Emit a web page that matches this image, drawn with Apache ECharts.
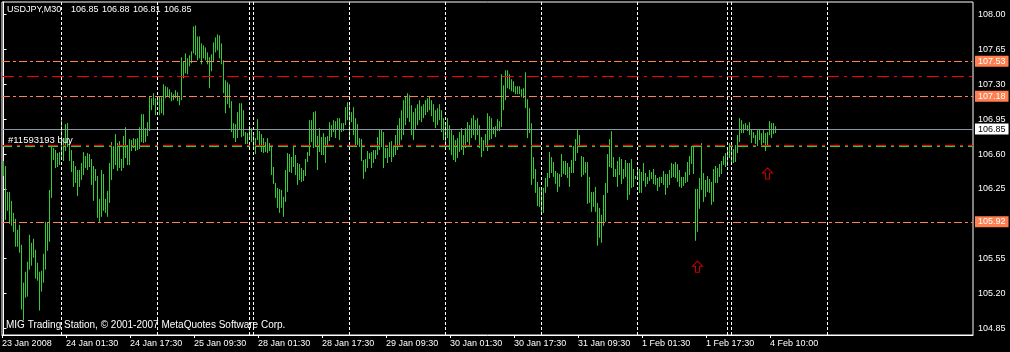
<!DOCTYPE html>
<html><head><meta charset="utf-8">
<script src="https://cdn.jsdelivr.net/npm/echarts@6/dist/echarts.min.js"></script>
<style>html,body{margin:0;padding:0;background:#000;}#c{width:1010px;height:352px;}</style>
</head><body><div id="c"></div>
<script>
// ---- data (USDJPY M30 bars, one per 30 minutes) ----
const highs = [
106.53,106.48,106.22,106.22,106.13,106.01,105.95,105.84,105.89,105.69,
105.31,105.42,105.52,105.79,105.71,105.75,105.64,105.51,105.42,105.43,
105.60,105.92,105.91,106.24,106.69,106.66,106.64,106.61,106.62,106.94,
106.73,106.90,106.91,106.73,106.64,106.53,106.48,106.44,106.44,106.51,
106.62,106.58,106.61,106.60,106.55,106.48,106.45,106.38,106.15,106.44,
106.40,106.15,106.23,106.51,106.72,106.68,106.80,106.71,106.73,106.55,
106.78,106.87,106.69,106.75,106.74,106.76,106.75,106.76,106.87,107.00,
107.00,106.86,106.92,107.18,107.16,107.21,107.16,107.17,107.18,107.17,
107.30,107.28,107.27,107.25,107.22,107.20,107.24,107.22,107.17,107.57,
107.53,107.61,107.56,107.59,107.63,107.88,107.89,107.78,107.78,107.71,
107.69,107.67,107.62,107.57,107.60,107.72,107.77,107.80,107.79,107.71,
107.54,107.34,107.32,107.30,107.13,106.91,106.90,107.02,107.11,107.11,
107.04,106.82,106.81,106.88,106.86,106.79,106.76,106.95,106.83,106.80,
106.76,106.72,106.76,106.71,106.68,106.47,106.31,106.26,106.25,106.24,
106.17,106.44,106.61,106.60,106.57,106.67,106.59,106.51,106.50,106.46,
106.44,106.55,106.62,106.94,106.94,107.02,107.03,106.78,106.86,106.77,
106.81,106.77,106.78,106.92,106.89,106.94,106.93,106.96,106.96,106.91,
106.91,107.07,107.12,107.10,107.02,107.07,106.96,106.90,106.76,106.75,
106.54,106.55,106.63,106.61,106.62,106.64,106.64,106.77,106.85,106.85,
106.82,106.66,106.66,106.72,106.73,106.67,106.79,106.89,106.96,107.04,
107.14,107.18,107.21,107.19,107.09,107.02,107.06,107.10,107.14,107.08,
107.10,107.14,107.16,107.18,107.14,107.10,107.04,107.06,107.10,107.04,
106.96,106.92,106.96,106.89,106.84,106.79,106.74,106.76,106.82,106.86,
106.79,106.86,106.92,106.89,106.96,106.99,106.94,106.96,106.89,106.77,
106.74,106.80,107.01,106.98,106.96,106.87,106.88,106.95,106.93,107.40,
107.29,107.44,107.44,107.40,107.35,107.33,107.28,107.28,107.28,107.25,
107.26,107.42,107.15,107.06,106.91,106.57,106.45,106.32,106.27,106.27,
106.26,106.36,106.41,106.62,106.57,106.52,106.43,106.41,106.40,106.60,
106.53,106.53,106.51,106.47,106.54,106.68,106.75,106.84,106.79,106.58,
106.57,106.52,106.52,106.37,106.22,106.22,106.27,106.11,106.06,105.99,
106.19,106.31,106.60,106.75,106.83,106.57,106.45,106.53,106.57,106.55,
106.45,106.54,106.51,106.51,106.55,106.45,106.38,106.46,106.45,106.42,
106.51,106.41,106.37,106.44,106.42,106.45,106.39,106.36,106.37,106.37,
106.43,106.40,106.40,106.44,106.51,106.50,106.52,106.50,106.44,106.37,
106.37,106.42,106.52,106.58,106.68,106.69,106.25,106.25,106.36,106.71,
106.41,106.34,106.38,106.35,106.32,106.45,106.48,106.46,106.50,106.53,
106.58,106.61,106.65,106.71,106.69,106.65,106.69,106.79,106.96,106.94,
106.90,106.91,106.89,106.92,106.85,106.82,106.79,106.84,106.85,106.81,
106.84,106.81,106.82,106.93,106.91,106.91,106.88
];
const lows = [
106.38,105.94,106.03,105.90,105.88,105.82,105.67,105.67,105.61,105.04,
104.93,105.16,105.17,105.44,105.48,105.56,105.35,105.33,105.03,105.22,
105.31,105.44,105.63,105.72,106.16,106.54,106.46,106.47,106.49,106.54,
106.53,106.63,106.67,106.53,106.42,106.27,106.31,106.18,106.27,106.34,
106.39,106.46,106.44,106.47,106.29,106.13,106.33,105.96,105.92,105.97,
106.03,106.01,105.97,106.11,106.34,106.45,106.49,106.43,106.46,106.43,
106.46,106.56,106.49,106.49,106.63,106.66,106.63,106.64,106.65,106.72,
106.71,106.72,106.78,106.83,107.04,107.09,106.99,107.09,106.99,107.01,
106.99,107.16,107.18,107.16,107.13,107.14,107.16,107.13,107.09,107.14,
107.36,107.41,107.40,107.48,107.51,107.61,107.59,107.54,107.56,107.50,
107.56,107.54,107.50,107.26,107.43,107.52,107.62,107.64,107.56,107.50,
107.21,107.01,107.10,107.06,106.82,106.76,106.72,106.76,106.85,106.77,
106.78,106.70,106.70,106.76,106.72,106.65,106.60,106.74,106.69,106.62,
106.61,106.62,106.61,106.63,106.39,106.30,106.16,106.06,106.01,106.06,
105.97,106.12,106.22,106.42,106.41,106.47,106.39,106.29,106.34,106.32,
106.33,106.38,106.52,106.58,106.72,106.66,106.67,106.44,106.62,106.59,
106.59,106.51,106.67,106.73,106.77,106.82,106.76,106.84,106.74,106.82,
106.83,106.89,106.94,106.76,106.92,106.79,106.67,106.69,106.67,106.53,
106.35,106.42,106.46,106.55,106.46,106.51,106.55,106.59,106.64,106.67,
106.46,106.56,106.51,106.57,106.52,106.57,106.59,106.64,106.69,106.74,
106.79,106.89,106.96,106.92,106.79,106.74,106.84,106.89,106.94,106.92,
106.96,106.99,107.02,107.04,106.98,106.92,106.86,106.89,106.94,106.82,
106.74,106.69,106.76,106.64,106.59,106.54,106.52,106.56,106.62,106.64,
106.59,106.66,106.72,106.69,106.76,106.79,106.74,106.79,106.66,106.57,
106.63,106.67,106.63,106.74,106.75,106.80,106.77,106.83,106.83,106.87,
107.04,107.14,107.26,107.25,107.23,107.22,107.20,107.20,107.20,107.17,
107.16,107.06,106.76,106.81,106.29,106.35,106.21,106.08,106.07,106.00,
106.01,106.21,106.27,106.36,106.41,106.37,106.30,106.22,106.27,106.37,
106.40,106.39,106.36,106.27,106.41,106.41,106.53,106.61,106.68,106.37,
106.39,106.41,106.10,106.11,106.02,106.07,106.02,105.68,105.76,105.71,
105.88,105.92,106.21,106.47,106.46,106.37,106.37,106.27,106.39,106.30,
106.35,106.37,106.14,106.19,106.26,106.27,106.35,106.36,106.21,106.21,
106.33,106.27,106.30,106.33,106.35,106.30,106.29,106.23,106.27,106.31,
106.29,106.19,106.26,106.29,106.36,106.37,106.36,106.32,106.27,106.26,
106.28,106.31,106.32,106.39,106.50,106.40,105.73,105.82,106.05,106.24,
106.12,106.17,106.22,106.21,106.09,106.12,106.31,106.31,106.37,106.40,
106.49,106.47,106.48,106.56,106.52,106.51,106.52,106.61,106.72,106.81,
106.81,106.84,106.83,106.79,106.71,106.76,106.70,106.68,106.74,106.67,
106.71,106.63,106.69,106.79,106.76,106.80,106.81
];
// time-axis labels (every 32 bars = 16 hours of trading)
const timeLabels = ['23 Jan 2008','24 Jan 01:30','24 Jan 17:30','25 Jan 09:30','28 Jan 01:30','28 Jan 17:30','29 Jan 09:30','30 Jan 01:30','30 Jan 17:30','31 Jan 09:30','1 Feb 01:30','1 Feb 17:30','4 Feb 10:00'];
const timeLabelBars = [0,32,64,96,128,160,192,224,256,288,320,352,384];
// day separators (bar index of each new day)
const daySeparators = [29,77,123,125,173,221,269,317,362,364,412];
// price tick labels on the right axis
const priceTicks = [104.85,105.20,105.55,106.25,106.60,106.95,107.30,107.65,108.00];
// horizontal levels
const orangeLevels = [107.53, 107.18, 105.92];
const redLevel = 107.38;
const bidPrice = 106.85;
const orderPriceRed = 106.69;
const orderPriceGreen = 106.68;
const orderLabel = '#11593193 buy';
// arrows: [bar index, price]
const arrows = [[347, 105.47],[382, 106.405]];
const header = ['USDJPY,M30','106.85','106.88','106.81','106.85'];
const footer = 'MIG Trading Station, © 2001-2007 MetaQuotes Software Corp.';

// ---- chart ----
const FONT = 'Liberation Sans';
const chart = echarts.init(document.getElementById('c'), null, {renderer:'canvas'});
const barData = highs.map((h,i)=>[i, lows[i], h]);
const tickShift = 0.7;

const orangeStyle = {color:'#FF7F50', width:1, type:[8,3,3,3]};
const markData = [];
orangeLevels.forEach(v=>markData.push({yAxis:v, lineStyle:orangeStyle,
  label:{show:true, position:'end', distance:2, formatter:(p)=>Number(p.value).toFixed(2),
    backgroundColor:'#FF7F50', color:'#fff', fontFamily:FONT, fontSize:9, lineHeight:10, padding:[1,3,0,3]}}));
markData.push({yAxis:redLevel, lineStyle:{color:'#FF0000', width:1, type:[12,5,3,5]}, label:{show:false}});
markData.push({yAxis:bidPrice, lineStyle:{color:'#8A96A4', width:1, type:'solid'},
  label:{show:true, position:'end', distance:2, formatter:(p)=>Number(p.value).toFixed(2),
    backgroundColor:'#fff', color:'#000', fontFamily:FONT, fontSize:9, lineHeight:10, padding:[1,3,0,3]}});
markData.push({yAxis:orderPriceRed, lineStyle:{color:'#FF0000', width:1, type:[10,5,3,5]}, label:{show:false}});
markData.push({yAxis:orderPriceGreen, lineStyle:{color:'#32CD32', width:1, type:[10,5,3,5]}, label:{show:false}});
daySeparators.forEach(v=>markData.push({xAxis:v, lineStyle:{color:'#fff', width:1, type:[3,2]}, label:{show:false}}));

const option = {
  animation:false,
  backgroundColor:'#000',
  textStyle:{fontFamily:FONT},
  grid:{left:2, top:2, right:37, bottom:17, show:true, borderColor:'#fff', borderWidth:1, backgroundColor:'#000', containLabel:false, outerBoundsMode:'none'},
  xAxis:{type:'value', min:-0.75, max:484.75, splitLine:{show:false},
    axisLine:{show:true, lineStyle:{color:'#fff'}},
    axisTick:{show:true, length:3, lineStyle:{color:'#fff'}, customValues: timeLabelBars.map(v=>v-tickShift)},
    axisLabel:{show:true, color:'#fff', fontFamily:FONT, fontSize:9, align:'left', margin:4,
      customValues: timeLabelBars.map(v=>v-tickShift),
      formatter:(v)=>{const k=timeLabelBars.indexOf(Math.round(v+tickShift)); return k>=0?timeLabels[k]:'';}}},
  yAxis:{type:'value', position:'right', min:104.785, max:108.125, splitLine:{show:false},
    axisLine:{show:true, lineStyle:{color:'#fff'}},
    axisTick:{show:true, length:3, lineStyle:{color:'#fff'}, customValues: priceTicks},
    axisLabel:{show:true, color:'#fff', fontFamily:FONT, fontSize:9, margin:5, customValues: priceTicks,
      formatter:(v)=>Number(v).toFixed(2)}},
  series:[
    {type:'custom', name:'bars', data:barData, clip:true, z:2,
      renderItem:(params, api)=>{
        const x = api.value(0);
        const p1 = api.coord([x, api.value(1)]);
        const p2 = api.coord([x, api.value(2)]);
        return {type:'line', shape:{x1:p1[0], y1:p1[1], x2:p2[0], y2:p2[1]},
          style:{stroke:'#32CD32', lineWidth:1}};
      }},
    {type:'line', data:[], z:3, markLine:{silent:true, symbol:['none','none'], animation:false, data:markData}},
    {type:'scatter', data:arrows, z:4, silent:true,
      symbol:'path://M5,0 L10,5 L7,5 L7,11 L3,11 L3,5 L0,5 Z', symbolSize:[10,11],
      itemStyle:{color:'rgba(0,0,0,0)', borderColor:'#FF0000', borderWidth:1}}
  ],
  graphic:[
    {type:'text', left:7, top:5, style:{text:header[0], fill:'#fff', font:'9px '+FONT}},
    {type:'text', left:71, top:5, style:{text:header[1], fill:'#fff', font:'9px '+FONT}},
    {type:'text', left:102, top:5, style:{text:header[2], fill:'#fff', font:'9px '+FONT}},
    {type:'text', left:133, top:5, style:{text:header[3], fill:'#fff', font:'9px '+FONT}},
    {type:'text', left:164, top:5, style:{text:header[4], fill:'#fff', font:'9px '+FONT}},
    {type:'text', left:8, top:135, z:10, style:{text:orderLabel, fill:'#fff', font:'9.5px '+FONT}},
    {type:'text', left:6, top:320, z:10, style:{text:footer, fill:'#fff', font:'10px '+FONT}}
  ]
};
chart.setOption(option);
</script>
</body></html>
